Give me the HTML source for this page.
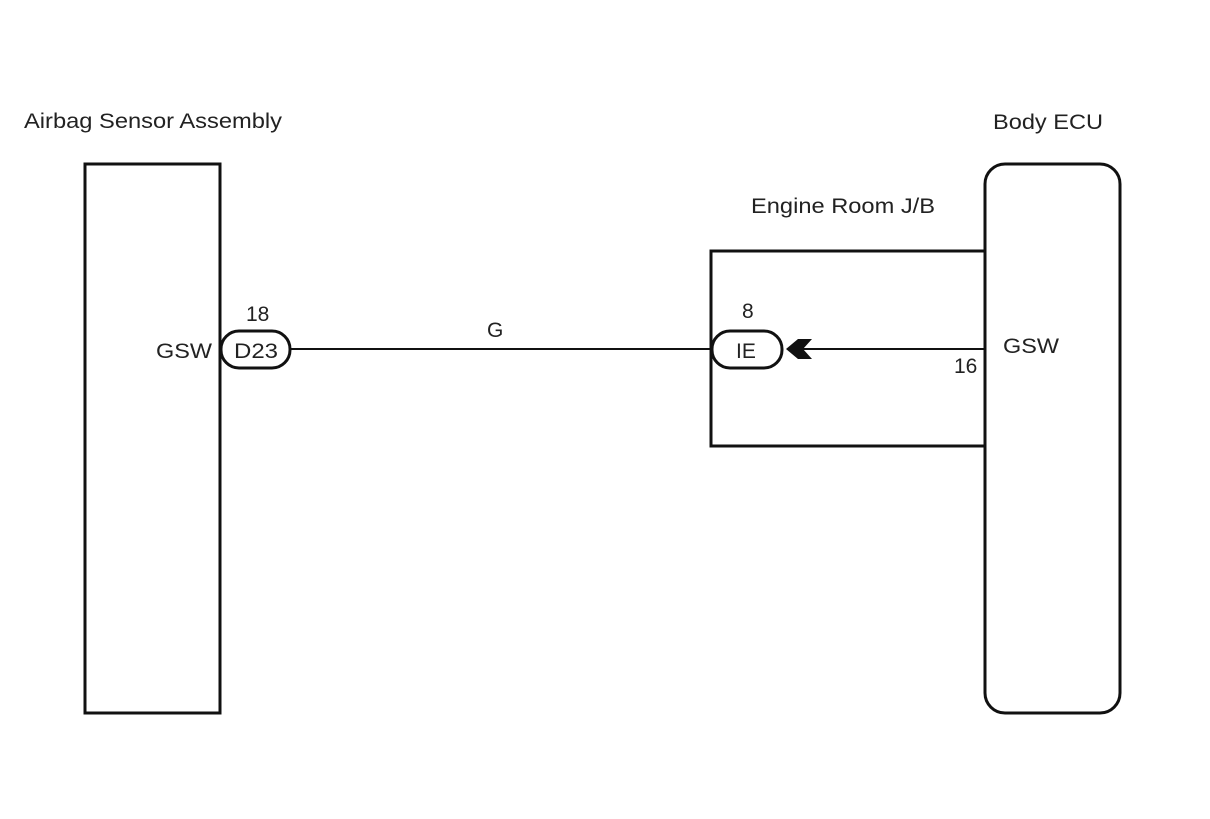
<!DOCTYPE html>
<html><head><meta charset="utf-8"><style>body{margin:0;background:#fff}</style></head><body>
<svg width="1210" height="814" xmlns="http://www.w3.org/2000/svg" font-family="Liberation Sans, sans-serif" font-size="21" fill="#222">
<rect width="1210" height="814" fill="#fff"/>
<text x="24" y="128" textLength="258" lengthAdjust="spacingAndGlyphs">Airbag Sensor Assembly</text>
<text x="993" y="129" textLength="110" lengthAdjust="spacingAndGlyphs">Body ECU</text>
<text x="751" y="213" textLength="184" lengthAdjust="spacingAndGlyphs">Engine Room J/B</text>
<rect x="85" y="164" width="135" height="549" fill="none" stroke="#111" stroke-width="3"/>
<rect x="985" y="164" width="135" height="549" rx="20" fill="none" stroke="#111" stroke-width="3"/>
<polyline points="985,251 711,251 711,446 985,446" fill="none" stroke="#111" stroke-width="3"/>
<line x1="290" y1="349" x2="711" y2="349" stroke="#111" stroke-width="2"/>
<line x1="800" y1="349" x2="985" y2="349" stroke="#111" stroke-width="2"/>
<rect x="221" y="331" width="69" height="37" rx="18" fill="#fff" stroke="#111" stroke-width="3"/>
<rect x="712" y="331" width="70" height="37" rx="18" fill="#fff" stroke="#111" stroke-width="3"/>
<polygon points="786,349 798,339 812,339 803,349 812,359 798,359" fill="#111"/>
<text x="156" y="358" textLength="56" lengthAdjust="spacingAndGlyphs">GSW</text>
<text x="234" y="358" textLength="44" lengthAdjust="spacingAndGlyphs">D23</text>
<text x="246" y="321">18</text>
<text x="487" y="337">G</text>
<text x="736" y="358">IE</text>
<text x="742" y="318">8</text>
<text x="954" y="373">16</text>
<text x="1003" y="353" textLength="56" lengthAdjust="spacingAndGlyphs">GSW</text>
</svg>
</body></html>
